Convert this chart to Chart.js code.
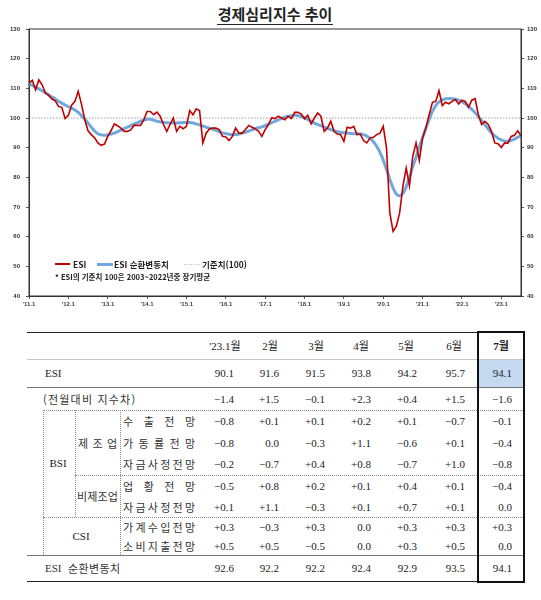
<!DOCTYPE html>
<html lang="ko">
<head>
<meta charset="utf-8">
<script src="https://cdn.jsdelivr.net/npm/chart.js@4.4.0/dist/chart.umd.min.js"></script>
<style>
  html, body { margin: 0; padding: 0; background: #fff; }
  #page { position: relative; width: 541px; height: 600px; overflow: hidden; font-family: "Noto Sans CJK KR", "Noto Sans", sans-serif; color: #222; }
  #chart-box { position: absolute; left: 0; top: 0; width: 541px; height: 312px; }
  .abs { position: absolute; white-space: nowrap; }
  .title { left: 0; width: 550px; top: 3px; text-align: center; font-size: 15px; font-weight: 700; }
  .title span { border-bottom: 1.5px solid #222; padding: 0 1px 0 1px; }
  .lg { font-size: 8.5px; font-weight: 700; line-height: 12px; height: 12px; }
  .num { font-family: "Liberation Serif", serif; font-size: 11px; text-align: right; line-height: 16px; height: 16px; }
  .hd { font-family: "Liberation Serif", "Noto Sans CJK KR", serif; font-size: 11px; text-align: center; line-height: 16px; height: 16px; }
  .kr { font-size: 11px; line-height: 16px; height: 16px; color: #333; }
  .spread { display: flex; justify-content: space-between; }
</style>
</head>
<body>
<div id="page">
  <div class="abs title"><span>경제심리지수 추이</span></div>
  <div id="chart-box"><canvas id="chart"></canvas></div>
</div>
<script>
"use strict";

// 2011.1 ~ 2023.7, monthly
const YEARS = [2011, 2012, 2013, 2014, 2015, 2016, 2017, 2018, 2019, 2020, 2021, 2022, 2023];
const LAST_MONTH = 7;

const esi = [
  111.8, 112.7, 109.5, 112.9, 111.2, 108.4, 107.6, 106.4, 105.8, 103.9, 103.6, 99.8,
  100.9, 104.3, 105.6, 109.0, 104.7, 99.4, 95.7, 94.4, 93.3, 91.6, 90.8, 91.2,
  93.8, 95.7, 98.0, 97.4, 96.6, 95.5, 95.5, 96.0, 97.5, 97.5, 97.5, 99.4,
  102.2, 102.2, 101.1, 102.0, 100.6, 97.8, 95.5, 97.8, 100.0, 95.5, 97.2, 96.4,
  97.2, 102.5, 101.1, 103.1, 102.5, 91.6, 94.9, 96.3, 96.6, 96.6, 96.1, 93.8,
  93.6, 92.4, 93.8, 96.6, 94.9, 94.9, 96.1, 97.5, 96.9, 96.3, 95.5, 93.8,
  96.1, 97.8, 100.0, 99.8, 100.6, 100.0, 99.4, 100.6, 99.8, 101.9, 101.9, 101.3,
  99.7, 100.9, 98.0, 100.0, 101.7, 100.6, 95.5, 96.6, 98.9, 95.5, 94.6, 94.4,
  92.1, 96.9, 96.6, 97.2, 94.4, 94.6, 92.4, 91.6, 93.3, 93.5, 94.4, 94.9,
  97.2, 89.9, 68.0, 61.8, 63.5, 68.0, 77.0, 83.1, 77.2, 87.1, 91.6, 85.7,
  93.3, 96.6, 101.1, 105.3, 105.6, 109.2, 104.2, 105.3, 104.8, 105.6, 106.2, 104.7,
  106.0, 105.6, 103.6, 106.0, 106.5, 101.1, 97.8, 98.9, 97.8, 95.5, 91.6, 91.3,
  90.1, 91.6, 91.5, 93.8, 94.2, 95.7, 94.1,
];

const esiCycle = [
  111.6, 111.0, 110.4, 109.8, 109.2, 108.5, 107.8, 107.1, 106.4, 105.6, 105.0, 104.4,
  103.8, 103.3, 102.7, 101.9, 100.8, 99.6, 98.3, 96.9, 95.6, 94.7, 94.3, 94.2,
  94.3, 94.6, 94.9, 95.4, 95.9, 96.4, 96.9, 97.4, 97.9, 98.4, 98.9, 99.3,
  99.6, 99.6, 99.3, 98.9, 98.7, 98.5, 98.4, 98.3, 98.3, 98.3, 98.4, 98.5,
  98.5, 98.5, 98.3, 98.0, 97.7, 97.3, 96.9, 96.6, 96.2, 95.8, 95.4, 95.0,
  94.8, 94.5, 94.4, 94.4, 94.6, 94.9, 95.2, 95.6, 96.0, 96.4, 96.7, 97.0,
  97.4, 97.9, 98.4, 98.9, 99.4, 99.9, 100.3, 100.6, 100.8, 100.9, 100.8, 100.5,
  100.1, 99.5, 98.9, 98.3, 97.8, 97.4, 96.9, 96.5, 96.1, 95.7, 95.4, 95.2,
  95.0, 94.9, 94.8, 94.7, 94.7, 94.6, 94.4, 93.9, 93.1, 92.0, 90.5, 88.4,
  85.8, 82.6, 79.3, 76.4, 74.4, 73.8, 74.6, 76.8, 80.0, 83.6, 86.8, 90.2,
  93.4, 96.6, 99.6, 102.2, 104.2, 105.4, 106.1, 106.5, 106.6, 106.5, 106.3, 106.0,
  105.5, 104.8, 103.9, 102.9, 101.8, 100.5, 99.1, 97.7, 96.3, 95.0, 94.0, 93.2,
  92.6, 92.2, 92.2, 92.4, 92.9, 93.5, 94.1,
];

const BASE_VALUE = 100;
const Y_MIN = 40;
const Y_MAX = 130;
const Y_STEP = 10;

// table
const TABLE_HEAD = ["'23.1월", "2월", "3월", "4월", "5월", "6월", "7월"];
const rowEsi = [90.1, 91.6, 91.5, 93.8, 94.2, 95.7, 94.1];
const rowDiff = [-1.4, 1.5, -0.1, 2.3, 0.4, 1.5, -1.6];
const rowExport = [-0.8, 0.1, 0.1, 0.2, 0.1, -0.7, -0.1];
const rowOperation = [-0.8, 0.0, -0.3, 1.1, -0.6, 0.1, -0.4];
const rowFundMfg = [-0.2, -0.7, 0.4, 0.8, -0.7, 1.0, -0.8];
const rowBusiness = [-0.5, 0.8, 0.2, 0.1, 0.4, 0.1, -0.4];
const rowFundNonMfg = [0.1, 1.1, -0.3, 0.1, 0.7, 0.1, 0.0];
const rowIncome = [0.3, -0.3, 0.3, 0.0, 0.3, 0.3, 0.3];
const rowSpending = [0.5, 0.5, -0.5, 0.0, 0.3, 0.5, 0.0];
const rowCycle = [92.6, 92.2, 92.2, 92.4, 92.9, 93.5, 94.1];

const RED = "#c00000";
const BLUE = "#6fa8dc";

const months = [];
for (const y of YEARS) {
  const end = y === YEARS[YEARS.length - 1] ? LAST_MONTH : 12;
  for (let m = 1; m <= end; m++) months.push(`${y}.${m}`);
}
const baseline = months.map(() => BASE_VALUE);

function tickLabel(label) {
  const [y, m] = label.split(".");
  return m === "1" ? `'${y.slice(2)}.1` : null;
}

const framePlugin = {
  id: "frame",
  afterDraw(chart) {
    const { ctx, chartArea: a } = chart;
    ctx.save();
    ctx.strokeStyle = "#333";
    ctx.lineWidth = 1;
    ctx.strokeRect(a.left, a.top, a.right - a.left, a.bottom - a.top);
    ctx.restore();
  },
};

const tickFont = { family: "Liberation Sans", size: 6, weight: "bold" };

new Chart(document.getElementById("chart"), {
  type: "line",
  data: {
    labels: months,
    datasets: [
      { label: "ESI", data: esi, borderColor: RED, borderWidth: 1.6, pointRadius: 0, tension: 0 },
      { label: "ESI 순환변동치", data: esiCycle, borderColor: BLUE, borderWidth: 3, pointRadius: 0, tension: 0.3 },
      { label: "기준치(100)", data: baseline, borderColor: "#8a8a8a", borderWidth: 0.8, borderDash: [1.5, 1.5], pointRadius: 0 },
    ],
  },
  options: {
    responsive: true,
    maintainAspectRatio: false,
    animation: false,
    layout: { padding: { top: 29, left: 0, right: 0, bottom: 0 } },
    plugins: { legend: { display: false }, tooltip: { enabled: false } },
    scales: {
      x: {
        offset: false,
        border: { color: "#333" },
        grid: { drawOnChartArea: false, tickLength: 3, color: "#555" },
        ticks: { autoSkip: false, maxRotation: 0, padding: 2, color: "#444", font: tickFont,
          callback(v) { return tickLabel(months[v]); } },
        afterFit(scale) { scale.height = 16; },
      },
      y: {
        position: "left",
        min: Y_MIN, max: Y_MAX,
        border: { color: "#333" },
        grid: { drawOnChartArea: false, tickLength: 3, color: "#555" },
        ticks: { stepSize: Y_STEP, padding: 6, color: "#333", font: tickFont },
        afterFit(scale) { scale.width = 29; },
      },
      y2: {
        position: "right",
        min: Y_MIN, max: Y_MAX,
        border: { color: "#333" },
        grid: { drawOnChartArea: false, tickLength: 3, color: "#555" },
        ticks: { stepSize: Y_STEP, padding: 3, color: "#333", font: tickFont },
        afterFit(scale) { scale.width = 20; },
      },
    },
  },
  plugins: [framePlugin],
});

// ---- overlays: legend, note, table ----
const page = document.getElementById("page");

function el(cls, css, html) {
  const d = document.createElement("div");
  d.className = "abs " + cls;
  Object.assign(d.style, css);
  if (html !== undefined) d.textContent = html;
  page.appendChild(d);
  return d;
}

function text(cls, s, x, y, h, align, w) {
  const css = { top: (y - h / 2) + "px" };
  if (align === "right") { css.left = (x - w) + "px"; css.width = w + "px"; }
  else if (align === "center") { css.left = (x - w / 2) + "px"; css.width = w + "px"; }
  else css.left = x + "px";
  return el(cls, css, s);
}

function spread(s, x1, x2, y) {
  const d = el("kr spread", { left: x1 + "px", width: (x2 - x1) + "px", top: (y - 8) + "px" });
  for (const ch of s.replaceAll(" ", "")) {
    const sp = document.createElement("span");
    sp.textContent = ch;
    d.appendChild(sp);
  }
}

function hline(x1, x2, y, style) {
  el("", { left: x1 + "px", width: (x2 - x1) + "px", top: y + "px", height: "0", borderTop: style });
}
function vline(x, y1, y2, style) {
  el("", { left: x + "px", top: y1 + "px", height: (y2 - y1) + "px", width: "0", borderLeft: style });
}

// legend
el("", { left: "55px", top: "263px", width: "15px", height: "2px", background: RED });
text("lg", "ESI", 73, 264, 12);
el("", { left: "97px", top: "262.5px", width: "16px", height: "3px", background: BLUE });
text("lg", "ESI 순환변동치", 114, 264, 12);
el("", { left: "184px", top: "264px", width: "16px", height: "0", borderTop: "1px dotted #c8c8c8" });
text("lg", "기준치(100)", 202, 264, 12);
const note = text("lg", "* ESI의 기준치 100은 2003~2022년중 장기평균", 55, 277, 12);
note.style.fontSize = "7.5px";

// table
const COL_RIGHT = [234, 279, 325, 371, 417, 465, 512];
const COL_CENTER = [225, 270, 316, 361, 406, 454, 501];
const DOT = "1px dotted #8c8c8c";

function fmt(v) { return v.toFixed(1); }
function fmtSigned(v) {
  if (v > 0) return "+" + v.toFixed(1);
  if (v < 0) return "\u2212" + Math.abs(v).toFixed(1);
  return "0.0";
}

// highlight cell (July ESI)
el("", { left: "479px", top: "360px", width: "44px", height: "27px", background: "#c5d9f1" });

hline(27, 525, 332, "1.5px solid #222");
hline(27, 525, 359, "1px solid #c4c4c4");
hline(27, 525, 387, "1px solid #777");
hline(43, 525, 410, DOT);
hline(75, 525, 475, DOT);
hline(43, 525, 517, DOT);
hline(27, 525, 555, "1px solid #777");
hline(27, 525, 581, "1.5px solid #222");
vline(43, 410, 555, DOT);
vline(75, 410, 517, DOT);
vline(120, 410, 555, DOT);
el("", { left: "477px", top: "331px", width: "44px", height: "248px", border: "2px solid #111" });

TABLE_HEAD.forEach((h, i) => {
  const d = text("hd", h, COL_CENTER[i], 346, 16, "center", 44);
  if (i === TABLE_HEAD.length - 1) d.style.fontWeight = "700";
});

const ROWS = [
  { y: 373, vals: rowEsi, f: fmt },
  { y: 399, vals: rowDiff, f: fmtSigned },
  { y: 421, vals: rowExport, f: fmtSigned },
  { y: 443, vals: rowOperation, f: fmtSigned },
  { y: 464, vals: rowFundMfg, f: fmtSigned },
  { y: 486, vals: rowBusiness, f: fmtSigned },
  { y: 507, vals: rowFundNonMfg, f: fmtSigned },
  { y: 527, vals: rowIncome, f: fmtSigned },
  { y: 546, vals: rowSpending, f: fmtSigned },
  { y: 568, vals: rowCycle, f: fmt },
];
for (const r of ROWS) {
  r.vals.forEach((v, i) => text("num", r.f(v), COL_RIGHT[i], r.y, 16, "right", 40));
}

// row labels
const esiLbl = text("num", "ESI", 45, 373, 16);
esiLbl.style.textAlign = "left";
const diffLbl = text("kr", "(전월대비 지수차)", 43, 399, 16);
diffLbl.style.letterSpacing = "1.2px";
text("num", "BSI", 58, 463, 16, "center", 30).style.textAlign = "center";
spread("제조업", 78, 117, 443);
spread("비제조업", 77, 118, 496);
text("num", "CSI", 81, 536, 16, "center", 30).style.textAlign = "center";
spread("수출전망", 123, 195, 421);
spread("가동률전망", 123, 195, 443);
spread("자금사정전망", 123, 195, 464);
spread("업황전망", 123, 195, 486);
spread("자금사정전망", 123, 195, 507);
spread("가계수입전망", 123, 195, 527);
spread("소비지출전망", 123, 195, 546);
const cyc = el("kr", { left: "45px", top: "560px", width: "75px", display: "flex", justifyContent: "space-between" });
for (const part of ["ESI", "순", "환", "변", "동", "치"]) {
  const sp = document.createElement("span");
  sp.textContent = part;
  if (part === "ESI") { sp.style.fontFamily = "Liberation Serif, serif"; sp.style.marginRight = "6px"; }
  cyc.appendChild(sp);
}
</script>
</body>
</html>
